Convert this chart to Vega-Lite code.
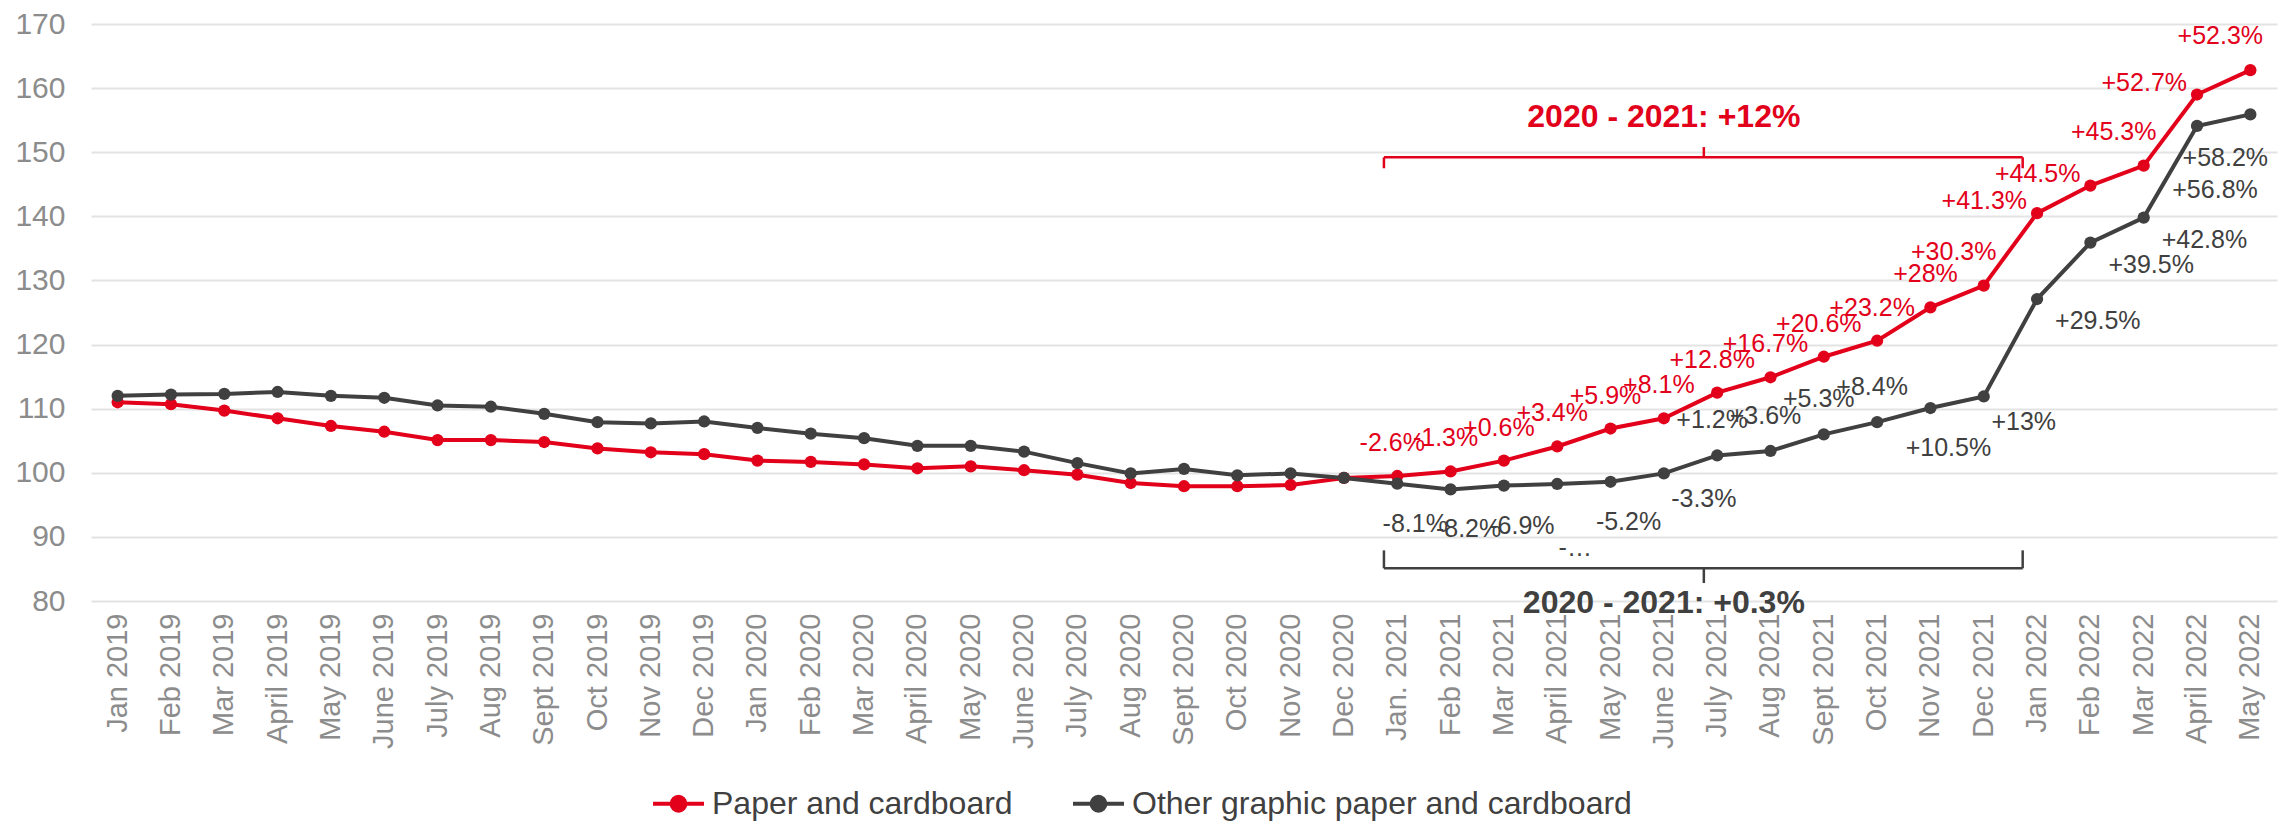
{
  "$schema": "https://vega.github.io/schema/vega-lite/v6.json",
  "width": 2186,
  "height": 577,
  "autosize": {"type": "none"},
  "padding": {"left": 91, "top": 24, "right": 18, "bottom": 224},
  "background": "white",
  "config": {
    "font": "Liberation Sans",
    "view": {"stroke": null},
    "axis": {"title": null, "ticks": false, "domain": false, "labelColor": "#8c8c8c", "labelFont": "Liberation Sans"}
  },
  "data": {
    "values": [
      {"month": "Jan 2019", "series": "Paper and cardboard", "value": 111.0},
      {"month": "Feb 2019", "series": "Paper and cardboard", "value": 110.7},
      {"month": "Mar 2019", "series": "Paper and cardboard", "value": 109.7},
      {"month": "April 2019", "series": "Paper and cardboard", "value": 108.5},
      {"month": "May 2019", "series": "Paper and cardboard", "value": 107.3},
      {"month": "June 2019", "series": "Paper and cardboard", "value": 106.4},
      {"month": "July 2019", "series": "Paper and cardboard", "value": 105.1},
      {"month": "Aug 2019", "series": "Paper and cardboard", "value": 105.1},
      {"month": "Sept 2019", "series": "Paper and cardboard", "value": 104.8},
      {"month": "Oct 2019", "series": "Paper and cardboard", "value": 103.8},
      {"month": "Nov 2019", "series": "Paper and cardboard", "value": 103.2},
      {"month": "Dec 2019", "series": "Paper and cardboard", "value": 102.9},
      {"month": "Jan 2020", "series": "Paper and cardboard", "value": 101.9},
      {"month": "Feb 2020", "series": "Paper and cardboard", "value": 101.7},
      {"month": "Mar 2020", "series": "Paper and cardboard", "value": 101.3},
      {"month": "April 2020", "series": "Paper and cardboard", "value": 100.7},
      {"month": "May 2020", "series": "Paper and cardboard", "value": 101.0},
      {"month": "June 2020", "series": "Paper and cardboard", "value": 100.4},
      {"month": "July 2020", "series": "Paper and cardboard", "value": 99.7},
      {"month": "Aug 2020", "series": "Paper and cardboard", "value": 98.4},
      {"month": "Sept 2020", "series": "Paper and cardboard", "value": 97.9},
      {"month": "Oct 2020", "series": "Paper and cardboard", "value": 97.9},
      {"month": "Nov 2020", "series": "Paper and cardboard", "value": 98.1},
      {"month": "Dec 2020", "series": "Paper and cardboard", "value": 99.2},
      {"month": "Jan. 2021", "series": "Paper and cardboard", "value": 99.5, "label": "-2.6%"},
      {"month": "Feb 2021", "series": "Paper and cardboard", "value": 100.2, "label": "-1.3%"},
      {"month": "Mar 2021", "series": "Paper and cardboard", "value": 101.9, "label": "+0.6%"},
      {"month": "April 2021", "series": "Paper and cardboard", "value": 104.1, "label": "+3.4%"},
      {"month": "May 2021", "series": "Paper and cardboard", "value": 106.9, "label": "+5.9%"},
      {"month": "June 2021", "series": "Paper and cardboard", "value": 108.5, "label": "+8.1%"},
      {"month": "July 2021", "series": "Paper and cardboard", "value": 112.5, "label": "+12.8%"},
      {"month": "Aug 2021", "series": "Paper and cardboard", "value": 114.9, "label": "+16.7%"},
      {"month": "Sept 2021", "series": "Paper and cardboard", "value": 118.1, "label": "+20.6%"},
      {"month": "Oct 2021", "series": "Paper and cardboard", "value": 120.6, "label": "+23.2%"},
      {"month": "Nov 2021", "series": "Paper and cardboard", "value": 125.8, "label": "+28%"},
      {"month": "Dec 2021", "series": "Paper and cardboard", "value": 129.2, "label": "+30.3%"},
      {"month": "Jan 2022", "series": "Paper and cardboard", "value": 140.5, "label": "+41.3%"},
      {"month": "Feb 2022", "series": "Paper and cardboard", "value": 144.8, "label": "+44.5%"},
      {"month": "Mar 2022", "series": "Paper and cardboard", "value": 147.9, "label": "+45.3%"},
      {"month": "April 2022", "series": "Paper and cardboard", "value": 159.0, "label": "+52.7%"},
      {"month": "May 2022", "series": "Paper and cardboard", "value": 162.8, "label": "+52.3%"},
      {"month": "Jan 2019", "series": "Other graphic paper and cardboard", "value": 112.0},
      {"month": "Feb 2019", "series": "Other graphic paper and cardboard", "value": 112.2},
      {"month": "Mar 2019", "series": "Other graphic paper and cardboard", "value": 112.3},
      {"month": "April 2019", "series": "Other graphic paper and cardboard", "value": 112.6},
      {"month": "May 2019", "series": "Other graphic paper and cardboard", "value": 112.0},
      {"month": "June 2019", "series": "Other graphic paper and cardboard", "value": 111.7},
      {"month": "July 2019", "series": "Other graphic paper and cardboard", "value": 110.5},
      {"month": "Aug 2019", "series": "Other graphic paper and cardboard", "value": 110.3},
      {"month": "Sept 2019", "series": "Other graphic paper and cardboard", "value": 109.2},
      {"month": "Oct 2019", "series": "Other graphic paper and cardboard", "value": 107.9},
      {"month": "Nov 2019", "series": "Other graphic paper and cardboard", "value": 107.7},
      {"month": "Dec 2019", "series": "Other graphic paper and cardboard", "value": 108.0},
      {"month": "Jan 2020", "series": "Other graphic paper and cardboard", "value": 107.0},
      {"month": "Feb 2020", "series": "Other graphic paper and cardboard", "value": 106.1},
      {"month": "Mar 2020", "series": "Other graphic paper and cardboard", "value": 105.4},
      {"month": "April 2020", "series": "Other graphic paper and cardboard", "value": 104.2},
      {"month": "May 2020", "series": "Other graphic paper and cardboard", "value": 104.2},
      {"month": "June 2020", "series": "Other graphic paper and cardboard", "value": 103.3},
      {"month": "July 2020", "series": "Other graphic paper and cardboard", "value": 101.5},
      {"month": "Aug 2020", "series": "Other graphic paper and cardboard", "value": 99.9},
      {"month": "Sept 2020", "series": "Other graphic paper and cardboard", "value": 100.6},
      {"month": "Oct 2020", "series": "Other graphic paper and cardboard", "value": 99.6},
      {"month": "Nov 2020", "series": "Other graphic paper and cardboard", "value": 99.9},
      {"month": "Dec 2020", "series": "Other graphic paper and cardboard", "value": 99.2},
      {"month": "Jan. 2021", "series": "Other graphic paper and cardboard", "value": 98.3, "label": "-8.1%"},
      {"month": "Feb 2021", "series": "Other graphic paper and cardboard", "value": 97.4, "label": "-8.2%"},
      {"month": "Mar 2021", "series": "Other graphic paper and cardboard", "value": 98.0, "label": "-6.9%"},
      {"month": "April 2021", "series": "Other graphic paper and cardboard", "value": 98.25, "label": "-…"},
      {"month": "May 2021", "series": "Other graphic paper and cardboard", "value": 98.6, "label": "-5.2%"},
      {"month": "June 2021", "series": "Other graphic paper and cardboard", "value": 99.9, "label": "-3.3%"},
      {"month": "July 2021", "series": "Other graphic paper and cardboard", "value": 102.7, "label": "+1.2%"},
      {"month": "Aug 2021", "series": "Other graphic paper and cardboard", "value": 103.4, "label": "+3.6%"},
      {"month": "Sept 2021", "series": "Other graphic paper and cardboard", "value": 106.0, "label": "+5.3%"},
      {"month": "Oct 2021", "series": "Other graphic paper and cardboard", "value": 107.9, "label": "+8.4%"},
      {"month": "Nov 2021", "series": "Other graphic paper and cardboard", "value": 110.1, "label": "+10.5%"},
      {"month": "Dec 2021", "series": "Other graphic paper and cardboard", "value": 111.9, "label": "+13%"},
      {"month": "Jan 2022", "series": "Other graphic paper and cardboard", "value": 127.1, "label": "+29.5%"},
      {"month": "Feb 2022", "series": "Other graphic paper and cardboard", "value": 135.9, "label": "+39.5%"},
      {"month": "Mar 2022", "series": "Other graphic paper and cardboard", "value": 139.8, "label": "+42.8%"},
      {"month": "April 2022", "series": "Other graphic paper and cardboard", "value": 154.1, "label": "+56.8%"},
      {"month": "May 2022", "series": "Other graphic paper and cardboard", "value": 155.9, "label": "+58.2%"}
    ]
  },
  "encoding": {
    "x": {
      "field": "month",
      "type": "ordinal",
      "scale": {
        "type": "band",
        "paddingInner": 0,
        "paddingOuter": 0,
        "domain": ["Jan 2019","Feb 2019","Mar 2019","April 2019","May 2019","June 2019","July 2019","Aug 2019","Sept 2019","Oct 2019","Nov 2019","Dec 2019","Jan 2020","Feb 2020","Mar 2020","April 2020","May 2020","June 2020","July 2020","Aug 2020","Sept 2020","Oct 2020","Nov 2020","Dec 2020","Jan. 2021","Feb 2021","Mar 2021","April 2021","May 2021","June 2021","July 2021","Aug 2021","Sept 2021","Oct 2021","Nov 2021","Dec 2021","Jan 2022","Feb 2022","Mar 2022","April 2022","May 2022"]
      },
      "axis": {"labelAngle": -90, "labelFontSize": 29, "labelPadding": 12, "labelOverlap": false, "grid": false}
    },
    "y": {
      "field": "value",
      "type": "quantitative",
      "scale": {"domain": [80, 170], "nice": false, "zero": false},
      "axis": {"values": [80, 90, 100, 110, 120, 130, 140, 150, 160, 170], "labelFontSize": 30, "labelPadding": 26, "grid": true, "gridColor": "#e3e3e3", "gridWidth": 2, "labelOverlap": false}
    }
  },
  "layer": [
    {
      "encoding": {
        "color": {
          "field": "series",
          "type": "nominal",
          "scale": {"domain": ["Paper and cardboard", "Other graphic paper and cardboard"], "range": ["#E2001A", "#404040"]},
          "legend": {
            "title": null,
            "orient": "none",
            "legendX": 560,
            "legendY": 752,
            "direction": "horizontal",
            "padding": 0,
            "columnPadding": 52,
            "labelFontSize": 32,
            "labelColor": "#404040",
            "labelLimit": 1000,
            "labelOffset": 6,
            "symbolType": "M-1,0L1,0M-0.27,0A0.27,0.27,0,1,0,0.27,0A0.27,0.27,0,1,0,-0.27,0Z",
            "symbolSize": 2601,
            "symbolStrokeWidth": 4,
            "encode": {"symbols": {"update": {"fill": {"scale": "color", "field": "value"}, "stroke": {"scale": "color", "field": "value"}, "strokeWidth": {"value": 4}, "opacity": {"value": 1}}}}
          }
        }
      },
      "layer": [
        {"mark": {"type": "line", "strokeWidth": 4}},
        {"mark": {"type": "point", "filled": true, "size": 150, "opacity": 1}}
      ]
    },
    {
      "transform": [{"filter": {"and": [{"field": "series", "equal": "Paper and cardboard"}, {"field": "month", "oneOf": ["Jan. 2021","Feb 2021","Mar 2021","April 2021","May 2021","June 2021","July 2021","Aug 2021","Sept 2021","Oct 2021","Nov 2021"]}]}}],
      "mark": {"type": "text", "fontSize": 25, "color": "#E2001A", "align": "center", "baseline": "middle", "dx": -5, "dy": -33},
      "encoding": {"text": {"field": "label"}}
    },
    {
      "transform": [{"filter": {"and": [{"field": "series", "equal": "Paper and cardboard"}, {"field": "month", "oneOf": ["Dec 2021","Mar 2022","May 2022"]}]}}],
      "mark": {"type": "text", "fontSize": 25, "color": "#E2001A", "align": "center", "baseline": "middle", "dx": -30, "dy": -34},
      "encoding": {"text": {"field": "label"}}
    },
    {
      "transform": [{"filter": {"and": [{"field": "series", "equal": "Paper and cardboard"}, {"field": "month", "oneOf": ["Jan 2022","Feb 2022","April 2022"]}]}}],
      "mark": {"type": "text", "fontSize": 25, "color": "#E2001A", "align": "right", "baseline": "middle", "dx": -10, "dy": -12},
      "encoding": {"text": {"field": "label"}}
    },
    {
      "transform": [{"filter": {"and": [{"field": "series", "equal": "Other graphic paper and cardboard"}, {"field": "month", "oneOf": ["Jan. 2021","Feb 2021","Mar 2021","May 2021","Nov 2021"]}]}}],
      "mark": {"type": "text", "fontSize": 25, "color": "#404040", "align": "center", "baseline": "middle", "dx": 18, "dy": 40},
      "encoding": {"text": {"field": "label"}}
    },
    {
      "transform": [{"filter": {"and": [{"field": "series", "equal": "Other graphic paper and cardboard"}, {"field": "month", "oneOf": ["April 2021","April 2022"]}]}}],
      "mark": {"type": "text", "fontSize": 25, "color": "#404040", "align": "center", "baseline": "middle", "dx": 18, "dy": 64},
      "encoding": {"text": {"field": "label"}}
    },
    {
      "transform": [{"filter": {"and": [{"field": "series", "equal": "Other graphic paper and cardboard"}, {"field": "month", "oneOf": ["June 2021","Dec 2021"]}]}}],
      "mark": {"type": "text", "fontSize": 25, "color": "#404040", "align": "center", "baseline": "middle", "dx": 40, "dy": 26},
      "encoding": {"text": {"field": "label"}}
    },
    {
      "transform": [{"filter": {"and": [{"field": "series", "equal": "Other graphic paper and cardboard"}, {"field": "month", "oneOf": ["July 2021","Aug 2021","Sept 2021","Oct 2021"]}]}}],
      "mark": {"type": "text", "fontSize": 25, "color": "#404040", "align": "center", "baseline": "middle", "dx": -5, "dy": -35},
      "encoding": {"text": {"field": "label"}}
    },
    {
      "transform": [{"filter": {"and": [{"field": "series", "equal": "Other graphic paper and cardboard"}, {"field": "month", "oneOf": ["Jan 2022","Feb 2022","Mar 2022"]}]}}],
      "mark": {"type": "text", "fontSize": 25, "color": "#404040", "align": "left", "baseline": "middle", "dx": 18, "dy": 22},
      "encoding": {"text": {"field": "label"}}
    },
    {
      "transform": [{"filter": {"and": [{"field": "series", "equal": "Other graphic paper and cardboard"}, {"field": "month", "oneOf": ["May 2022"]}]}}],
      "mark": {"type": "text", "fontSize": 25, "color": "#404040", "align": "center", "baseline": "middle", "dx": -25, "dy": 44},
      "encoding": {"text": {"field": "label"}}
    },
    {
      "transform": [{"filter": {"and": [{"field": "series", "equal": "Paper and cardboard"}, {"field": "month", "equal": "Jan 2019"}]}}],
      "layer": [
        {
          "mark": {"type": "rule", "color": "#E2001A", "strokeWidth": 2.5},
          "encoding": {
            "x": {"datum": "Jan. 2021", "type": "ordinal", "bandPosition": 0.25},
            "x2": {"datum": "Jan 2022", "bandPosition": 0.23},
            "y": {"datum": 149.2, "type": "quantitative"}
          }
        },
        {
          "mark": {"type": "rule", "color": "#E2001A", "strokeWidth": 2.5},
          "encoding": {
            "x": {"datum": "Jan. 2021", "type": "ordinal", "bandPosition": 0.25},
            "y": {"datum": 149.2, "type": "quantitative"},
            "y2": {"datum": 147.5}
          }
        },
        {
          "mark": {"type": "rule", "color": "#E2001A", "strokeWidth": 2.5},
          "encoding": {
            "x": {"datum": "Jan 2022", "type": "ordinal", "bandPosition": 0.23},
            "y": {"datum": 149.2, "type": "quantitative"},
            "y2": {"datum": 147.5}
          }
        },
        {
          "mark": {"type": "rule", "color": "#E2001A", "strokeWidth": 2.5},
          "encoding": {
            "x": {"datum": "July 2021", "type": "ordinal", "bandPosition": 0.25},
            "y": {"datum": 149.2, "type": "quantitative"},
            "y2": {"datum": 150.8}
          }
        },
        {
          "mark": {"type": "rule", "color": "#404040", "strokeWidth": 2.5},
          "encoding": {
            "x": {"datum": "Jan. 2021", "type": "ordinal", "bandPosition": 0.25},
            "x2": {"datum": "Jan 2022", "bandPosition": 0.23},
            "y": {"datum": 85.1, "type": "quantitative"}
          }
        },
        {
          "mark": {"type": "rule", "color": "#404040", "strokeWidth": 2.5},
          "encoding": {
            "x": {"datum": "Jan. 2021", "type": "ordinal", "bandPosition": 0.25},
            "y": {"datum": 85.1, "type": "quantitative"},
            "y2": {"datum": 87.9}
          }
        },
        {
          "mark": {"type": "rule", "color": "#404040", "strokeWidth": 2.5},
          "encoding": {
            "x": {"datum": "Jan 2022", "type": "ordinal", "bandPosition": 0.23},
            "y": {"datum": 85.1, "type": "quantitative"},
            "y2": {"datum": 87.9}
          }
        },
        {
          "mark": {"type": "rule", "color": "#404040", "strokeWidth": 2.5},
          "encoding": {
            "x": {"datum": "July 2021", "type": "ordinal", "bandPosition": 0.25},
            "y": {"datum": 85.1, "type": "quantitative"},
            "y2": {"datum": 82.8}
          }
        },
        {
          "mark": {"type": "text", "fontSize": 32, "fontWeight": "bold", "color": "#E2001A", "align": "center", "baseline": "middle", "text": "2020 - 2021: +12%"},
          "encoding": {
            "x": {"datum": "June 2021", "type": "ordinal", "bandPosition": 0.5},
            "y": {"datum": 155.5, "type": "quantitative"}
          }
        },
        {
          "mark": {"type": "text", "fontSize": 32, "fontWeight": "bold", "color": "#404040", "align": "center", "baseline": "middle", "text": "2020 - 2021: +0.3%"},
          "encoding": {
            "x": {"datum": "June 2021", "type": "ordinal", "bandPosition": 0.5},
            "y": {"datum": 79.7, "type": "quantitative"}
          }
        }
      ]
    }
  ]
}
